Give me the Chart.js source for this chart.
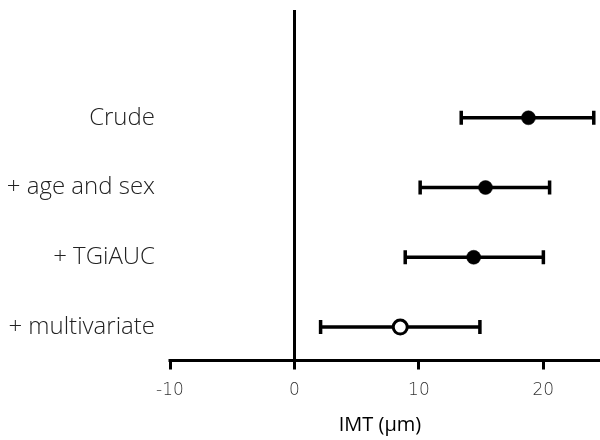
<!DOCTYPE html>
<html>
<head>
<meta charset="utf-8">
<script src="https://cdn.jsdelivr.net/npm/chart.js@4/dist/chart.umd.min.js"></script>
<style>
  html, body { margin: 0; padding: 0; background: #fff; overflow: hidden; }
  #wrap { width: 600px; height: 440px; }
  canvas { display: block; }
</style>
</head>
<body>
<div id="wrap"><canvas id="c" width="600" height="440"></canvas></div>
<script>
// ---- data ----
const categories = ['Crude', '+ age and sex', '+ TGiAUC', '+ multivariate'];
const estimate   = [18.8, 15.35, 14.4, 8.5];
const lower      = [13.4, 10.1, 8.9, 2.1];
const upper      = [24.05, 20.5, 20.0, 14.9];
const filled     = [true, true, true, false];
const xTicks     = [-10, 0, 10, 20];
const xMin       = -10;
const xMaxFull   = 24.55;   // value at the right edge of the picture
const xTitle     = 'IMT (µm)';

const rowPos = categories.map((c, i) => categories.length - i);

const errorBars = {
  id: 'errorBars',
  beforeDatasetsDraw(chart) {
    const { ctx, scales: { x, y } } = chart;
    ctx.save();
    ctx.strokeStyle = '#000';
    ctx.lineWidth = 3.5;
    ctx.lineCap = 'butt';
    categories.forEach((c, i) => {
      const py = y.getPixelForValue(rowPos[i]);
      const x1 = x.getPixelForValue(lower[i]);
      const x2 = x.getPixelForValue(upper[i]);
      ctx.beginPath();
      ctx.moveTo(x1, py); ctx.lineTo(x2, py);
      ctx.moveTo(x1, py - 7); ctx.lineTo(x1, py + 7);
      ctx.moveTo(x2, py - 7); ctx.lineTo(x2, py + 7);
      ctx.stroke();
    });
    ctx.restore();
  },
  afterDraw(chart) {
    // x-axis baseline, running on to the right edge of the canvas
    const { ctx, chartArea } = chart;
    ctx.save();
    ctx.strokeStyle = '#000';
    ctx.lineWidth = 3;
    ctx.lineCap = 'butt';
    ctx.beginPath();
    ctx.moveTo(chartArea.left - 1.5, chartArea.bottom);
    ctx.lineTo(chart.width, chartArea.bottom);
    ctx.stroke();
    ctx.restore();
  }
};

const canvas = document.getElementById('c');
const chart = new Chart(canvas, {
  type: 'scatter',
  data: {
    datasets: [{
      data: categories.map((c, i) => ({ x: estimate[i], y: rowPos[i] })),
      pointRadius: 7,
      pointHoverRadius: 7,
      pointBackgroundColor: filled.map(f => f ? '#000' : '#fff'),
      pointBorderColor: '#000',
      pointBorderWidth: filled.map(f => f ? 0.5 : 3),
      clip: false
    }]
  },
  options: {
    responsive: false,
    animation: false,
    events: [],
    layout: { padding: { top: 7, right: 0, left: 0, bottom: 0 } },
    plugins: { legend: { display: false }, tooltip: { enabled: false } },
    scales: {
      x: {
        type: 'linear',
        min: xMin,
        max: xMaxFull,
        afterBuildTicks: axis => { axis.ticks = xTicks.map(v => ({ value: v })); },
        afterFit: axis => { axis.height = 79.5; axis.paddingLeft = 0; axis.paddingRight = 0; },
        border: { display: false },
        grid: {
          drawOnChartArea: true,
          color: c => (c.tick && c.tick.value === 0) ? '#000' : 'rgba(0,0,0,0)',
          lineWidth: 3,
          drawTicks: true,
          tickLength: 9,
          tickWidth: 3,
          tickColor: '#000'
        },
        ticks: {
          color: '#333',
          padding: 11,
          font: { family: 'DejaVu Sans', size: 17, weight: '200' }
        },
        title: {
          display: true,
          text: xTitle,
          color: '#000',
          padding: { top: 4, bottom: 3 },
          font: { family: 'Open Sans', size: 20 }
        }
      },
      y: {
        type: 'linear',
        min: 0.52,
        max: 5.545,
        afterBuildTicks: axis => { axis.ticks = rowPos.map(v => ({ value: v })); },
        afterFit: axis => { axis.width = 170; axis.paddingTop = 0; axis.paddingBottom = 0; },
        border: { display: false },
        grid: { display: false, drawTicks: false },
        ticks: {
          color: '#222',
          padding: 15,
          font: { family: 'Open Sans', size: 24, weight: '300' },
          callback: v => { const i = rowPos.indexOf(v); return i >= 0 ? categories[i] : ''; }
        }
      }
    }
  },
  plugins: [errorBars]
});

// If the library kept a right margin, shrink the axis max so the value range
// still maps to the same scale as a plot spanning to the right edge.
const area = chart.chartArea;
const fullSpan = chart.width - area.left;
const span = area.right - area.left;
if (fullSpan - span > 0.5) {
  chart.options.scales.x.max = xMin + (xMaxFull - xMin) * span / fullSpan;
  chart.update();
}
</script>
</body>
</html>
